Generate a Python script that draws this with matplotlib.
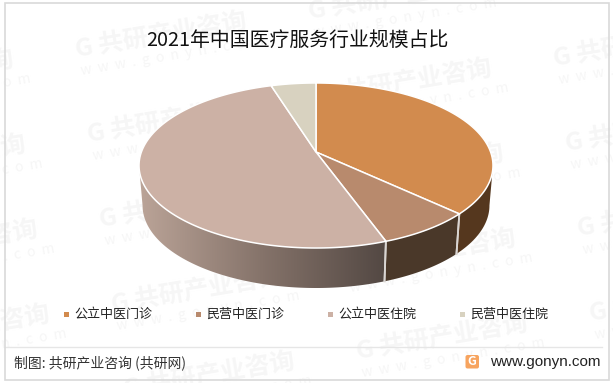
# -*- coding:utf-8 -*-

import numpy as np
import matplotlib
matplotlib.use("Agg")
import matplotlib.pyplot as plt
from matplotlib.colors import LinearSegmentedColormap
from matplotlib.patches import Polygon, Rectangle, FancyBboxPatch

plt.rcParams['font.family'] = ['Noto Sans CJK SC', 'DejaVu Sans']

title = "2021年中国医疗服务行业规模占比"
categories = ["公立中医门诊", "民营中医门诊", "公立中医住院", "民营中医住院"]
values = [37.0, 7.5, 50.7, 4.8]
colors = ["#d28b4e", "#b88a6d", "#ccb1a5", "#d8d2c0"]
wall_colors = ["#55371e", "#4a3829", None, "#8f8878"]
legend_x = [66, 198, 330, 462]
source = "制图: 共研产业咨询 (共研网)"
site = "www.gonyn.com"

W, H = 613, 383
fig = plt.figure(figsize=(W / 100, H / 100), dpi=100)
ax = fig.add_axes([0, 0, 1, 1])

# 水印
for i in range(-1, 3):
    for j in range(-1, 6):
        x0 = 75 + i * 233 + j * 12
        y0 = 50 + i * -38 + j * 85
        ax.text(x0, y0, "G 共研产业咨询", fontsize=18, fontweight="bold", color="#f6f6f6",
                rotation=9.5, rotation_mode="anchor", ha="left", va="center", zorder=1)
        ax.text(x0 + 6, y0 + 21, "w  w  w  .  g  o  n  y  n  .  c  o  m", fontsize=10, color="#f6f6f6",
                rotation=9.5, rotation_mode="anchor", ha="left", va="center", zorder=1)

# 透视椭圆
CX, CY = 316, 152
A, B, K = 174.6, 80.3, 0.1636
DEPTH, SHRINK = 40, 0.98


def top_pt(t):
    s, c = np.cos(t), np.sin(t)
    w = 1 + K * s
    return CX + A * c / w, CY - B * s / w


def bot_pt(t):
    s, c = np.cos(t), np.sin(t)
    w = 1 + K * s
    return CX + A * SHRINK * c / w, CY + DEPTH - B * s / w


edges = np.cumsum([0] + values) / sum(values) * 2 * np.pi
vis0, vis1 = np.pi / 2 + np.arcsin(K), 3 * np.pi / 2 - np.arcsin(K)

# 侧面
cmap = LinearSegmentedColormap.from_list("wall", ["#bba498", "#85736a", "#534843"])
for n in range(4):
    a0, a1 = max(edges[n], vis0), min(edges[n + 1], vis1)
    if a0 >= a1:
        continue
    tt = np.linspace(a0, a1, 200)
    tx, ty = top_pt(tt)
    bx, by = bot_pt(tt)
    pts = np.vstack([np.c_[tx, ty], np.c_[bx, by][::-1]])
    if wall_colors[n] is None:
        poly = Polygon(pts, closed=True, fc="none", ec="none", zorder=3)
        ax.add_patch(poly)
        grad = np.linspace(0, 1, 256).reshape(1, -1)
        im = ax.imshow(grad, cmap=cmap, extent=[pts[:, 0].min(), pts[:, 0].max(), pts[:, 1].max(), pts[:, 1].min()],
                       aspect="auto", zorder=3)
        im.set_clip_path(poly)
    else:
        ax.add_patch(Polygon(pts, closed=True, fc=wall_colors[n], ec="none", zorder=3))
    # 分界线
    for e in (edges[n], edges[n + 1]):
        if vis0 < e < vis1:
            p, q = top_pt(e), bot_pt(e)
            ax.plot([p[0], q[0]], [p[1], q[1]], color="#d9d5d2", lw=1.3, zorder=4)

# 顶面
for n in range(4):
    tt = np.linspace(edges[n], edges[n + 1], 200)
    tx, ty = top_pt(tt)
    pts = np.vstack([[CX, CY], np.c_[tx, ty]])
    ax.add_patch(Polygon(pts, closed=True, fc=colors[n], ec="white", lw=1.1, joinstyle="round", zorder=5))

ax.text(297.5, 40, title, fontsize=14.3, color="#111111", ha="center", va="center", zorder=6)

# 图例
for x, name, col in zip(legend_x, categories, colors):
    ax.add_patch(Rectangle((x - 2.5, 312), 5, 5, fc=col, ec="none", zorder=6))
    ax.text(x + 8, 314, name, fontsize=9.4, color="#222222", ha="left", va="center", zorder=6)

# 底部
ax.plot([5, 602], [347, 347], color="#e6e6e6", lw=1, zorder=2)
ax.text(14, 363, source, fontsize=10, color="#333333", fontweight="medium", ha="left", va="center", zorder=6)
ax.add_patch(FancyBboxPatch((465.5, 355), 13.5, 13.5, boxstyle="round,pad=0,rounding_size=2", fc="#f7a45f", ec="none", zorder=6))
ax.text(472.2, 361.5, "G", fontsize=9, fontweight="bold", color="white", ha="center", va="center", zorder=7)
ax.text(601, 362, site, fontsize=11, family="Liberation Sans", color="#222222", ha="right", va="center", zorder=6)

# 边框
ax.add_patch(Rectangle((4.5, 2.5), 604, 377, fc="none", ec="#d9d9d9", lw=1.2, zorder=8))

ax.set_xlim(0, W)
ax.set_ylim(H, 0)
ax.axis("off")
fig.savefig("out.png", dpi=100, facecolor="white")
